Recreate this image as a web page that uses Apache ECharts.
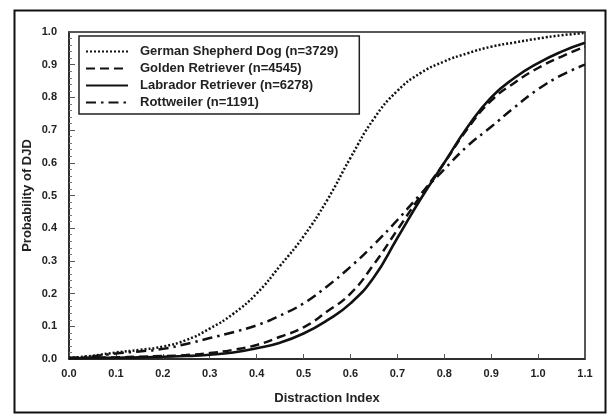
<!DOCTYPE html>
<html>
<head>
<meta charset="utf-8">
<script src="https://cdn.jsdelivr.net/npm/echarts@6/dist/echarts.min.js"></script>
<style>
html,body{margin:0;padding:0;background:#fff;}
#chart{width:615px;height:418px;}
</style>
</head>
<body>
<div id="chart"></div>
<script>
// Distraction index values (x)
var distractionIndex = [0.0,0.05,0.1,0.15,0.2,0.25,0.3,0.35,0.4,0.45,0.5,0.55,0.6,0.65,0.7,0.75,0.8,0.85,0.9,0.95,1.0,1.05,1.1];
// Probability of DJD per breed
var germanShepherd = [0.003,0.01,0.02,0.028,0.038,0.058,0.093,0.138,0.2,0.285,0.375,0.485,0.615,0.735,0.82,0.875,0.91,0.935,0.955,0.968,0.98,0.99,0.997];
var goldenRetriever = [0.003,0.004,0.005,0.007,0.009,0.012,0.018,0.028,0.043,0.068,0.097,0.145,0.2,0.29,0.395,0.5,0.6,0.705,0.79,0.845,0.89,0.925,0.955];
var labradorRetriever = [0.002,0.003,0.004,0.005,0.007,0.009,0.013,0.02,0.033,0.05,0.078,0.118,0.17,0.25,0.37,0.49,0.6,0.71,0.8,0.86,0.905,0.94,0.967];
var rottweiler = [0.003,0.008,0.017,0.023,0.031,0.046,0.064,0.082,0.103,0.133,0.17,0.222,0.282,0.35,0.425,0.505,0.58,0.652,0.71,0.77,0.825,0.868,0.9];
var seriesNames = ['German Shepherd Dog (n=3729)','Golden Retriever (n=4545)','Labrador Retriever (n=6278)','Rottweiler (n=1191)'];

function pairs(vals){ return distractionIndex.map(function(x,i){ return [x, vals[i]]; }); }

var FONT = '"Liberation Sans", Arial, sans-serif';
var chart = echarts.init(document.getElementById('chart'), null, {renderer:'canvas'});
var styles = [
  {data: germanShepherd, width: 2.5, type: [2, 2]},
  {data: goldenRetriever, width: 2.5, type: [9, 5]},
  {data: labradorRetriever, width: 2.6, type: 'solid'},
  {data: rottweiler, width: 2.5, type: [10, 5, 2.5, 5]}
];
chart.setOption({
  animation: false,
  backgroundColor: '#fff',
  graphic: [{
    type: 'rect', left: 12, top: 8, z: -1,
    shape: {width: 591, height: 402},
    style: {fill: 'none', stroke: '#111', lineWidth: 2}
  }],
  grid: {left: 69, right: 30, top: 32, bottom: 59, show: true, borderColor: '#222', borderWidth: 1.5, backgroundColor: 'transparent'},
  legend: {
    orient: 'vertical', left: 79, top: 36,
    itemWidth: 42, itemHeight: 13, itemGap: 4,
    padding: [9, 21, 5, 6],
    borderColor: '#222', borderWidth: 1.5,
    backgroundColor: '#fff',
    itemStyle: {opacity: 0},
    textStyle: {fontFamily: FONT, fontWeight: 'bold', fontSize: 13, color: '#222', padding: [0,0,0,7]},
    data: seriesNames
  },
  xAxis: {
    type: 'value', min: 0, max: 1.1, interval: 0.1,
    name: 'Distraction Index', nameLocation: 'middle', nameGap: 33,
    nameTextStyle: {fontFamily: FONT, fontWeight: 'bold', fontSize: 13, color: '#222'},
    axisLine: {show: true, lineStyle: {color: '#222', width: 1.5}},
    axisTick: {show: true, inside: true, length: 5, lineStyle: {color: '#555'}},
    axisLabel: {fontFamily: FONT, fontWeight: 'bold', fontSize: 11, color: '#222', margin: 9,
      formatter: function(v){ return v.toFixed(1); }},
    splitLine: {show: false}
  },
  yAxis: {
    type: 'value', min: 0, max: 1, interval: 0.1,
    name: 'Probability of DJD', nameLocation: 'middle', nameGap: 35, nameMoveOverlap: false,
    nameTextStyle: {fontFamily: FONT, fontWeight: 'bold', fontSize: 13, color: '#222'},
    axisLine: {show: true, lineStyle: {color: '#222', width: 1.5}},
    axisTick: {show: true, inside: true, length: 6, lineStyle: {color: '#555'}},
    minorTick: {show: true, splitNumber: 5, length: 3, lineStyle: {color: '#777'}},
    axisLabel: {fontFamily: FONT, fontWeight: 'bold', fontSize: 11, color: '#222', margin: 12,
      formatter: function(v){ return v.toFixed(1); }},
    splitLine: {show: false}
  },
  series: styles.map(function(s, i){
    return {
      name: seriesNames[i], type: 'line', smooth: true, symbol: 'none',
      data: pairs(s.data),
      lineStyle: {color: '#111', width: s.width, type: s.type, cap: 'butt'},
      itemStyle: {color: '#111'}
    };
  })
});
</script>
</body>
</html>
